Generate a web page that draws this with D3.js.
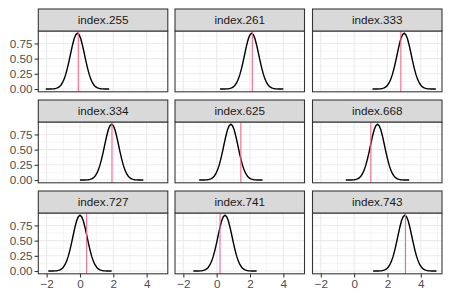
<!DOCTYPE html>
<html><head><meta charset="utf-8">
<script src="https://cdn.jsdelivr.net/npm/d3@7/dist/d3.min.js"></script>
<style>body{margin:0;background:#fff}svg{display:block}text{font-family:"Liberation Sans",Arial,sans-serif}</style>
</head><body><svg id="c" width="450" height="300"></svg>
<script>
// facet labels
const panels = ["index.255","index.261","index.333","index.334","index.625","index.668","index.727","index.741","index.743"];
// centre of each density curve
const curveCentres = [-0.15, 2.1, 3.0, 1.9, 0.85, 1.4, 0.0, 0.5, 3.04];
// position of the pink reference line
const refLines = [-0.1, 2.14, 2.8, 1.92, 1.45, 1.0, 0.4, 0.2, 3.08];
// curve shape: offsets from centre and density values
const offsets = [-1.9,-1.8,-1.7,-1.6,-1.5,-1.4,-1.3,-1.2,-1.1,-1.0,-0.9,-0.8,-0.7,-0.6,-0.5,-0.4,-0.3,-0.2,-0.1,0,
                  0.1,0.2,0.3,0.4,0.5,0.6,0.7,0.8,0.9,1.0,1.1,1.2,1.3,1.4,1.5,1.6,1.7,1.8,1.9];
const densities = [0.000,0.000,0.000,0.001,0.002,0.005,0.010,0.019,0.035,0.062,0.103,0.163,0.245,0.348,0.468,0.597,0.721,0.826,0.895,0.920,
                   0.895,0.826,0.721,0.597,0.468,0.348,0.245,0.163,0.103,0.062,0.035,0.019,0.010,0.005,0.002,0.001,0.000,0.000,0.000];
const xTicks = [-2,0,2,4];
const xMinor = [-1,1,3,5];
const yTicks = [0,0.25,0.5,0.75];
const yMinor = [0.125,0.375,0.625,0.875];

const svg = d3.select("#c");
const colX = [38.3, 175, 312.5], pw = 129.5;
const rowTop = [31, 122, 213], ph = 60.8, stripH = 22;
const x0 = d3.scaleLinear().domain([-2.5, 5.27]).range([0, pw]);
const y = d3.scaleLinear().domain([-0.046, 0.955]).range([ph, 0]);
const line = d3.line().x(d=>x0(d[0])).y(d=>y(d[1]));

panels.forEach((name,i)=>{
  const r = Math.floor(i/3), c = i%3;
  const g = svg.append("g").attr("transform",`translate(${colX[c]},${rowTop[r]})`);
  g.append("rect").attr("width",pw).attr("height",ph).attr("fill","#fff");
  // grid
  g.selectAll(".ymn").data(yMinor).join("line").attr("x1",0).attr("x2",pw).attr("y1",d=>y(d)).attr("y2",d=>y(d)).attr("stroke","#ebebeb").attr("stroke-width",0.55);
  g.selectAll(".xmn").data(xMinor).join("line").attr("y1",0).attr("y2",ph).attr("x1",d=>x0(d)).attr("x2",d=>x0(d)).attr("stroke","#ebebeb").attr("stroke-width",0.55);
  g.selectAll(".ymj").data(yTicks).join("line").attr("x1",0).attr("x2",pw).attr("y1",d=>y(d)).attr("y2",d=>y(d)).attr("stroke","#ebebeb").attr("stroke-width",1.1);
  g.selectAll(".xmj").data(xTicks).join("line").attr("y1",0).attr("y2",ph).attr("x1",d=>x0(d)).attr("x2",d=>x0(d)).attr("stroke","#ebebeb").attr("stroke-width",1.1);
  // curve
  const pts = offsets.map((o,k)=>[curveCentres[i]+o, densities[k]]);
  g.append("path").attr("d",line(pts)).attr("fill","none").attr("stroke","#000").attr("stroke-width",1.4);
  g.append("line").attr("x1",x0(refLines[i])).attr("x2",x0(refLines[i])).attr("y1",0).attr("y2",ph).attr("stroke","#f06a8e").attr("stroke-width",1.1);
  g.append("rect").attr("width",pw).attr("height",ph).attr("fill","none").attr("stroke","#333").attr("stroke-width",1.07);
  // strip
  g.append("rect").attr("y",-stripH).attr("width",pw).attr("height",stripH).attr("fill","#d9d9d9").attr("stroke","#333").attr("stroke-width",1.07);
  g.append("text").attr("x",pw/2).attr("y",-stripH/2).attr("dy","0.35em").attr("text-anchor","middle").attr("font-size",11.7).attr("fill","#1a1a1a").text(name);
  // axes
  if (c===0){
    const ay = g.append("g").call(d3.axisLeft(y).tickValues(yTicks).tickFormat(d3.format(".2f")).tickSize(3.7).tickPadding(2));
    ay.select(".domain").remove();
    ay.selectAll("line").attr("stroke","#333").attr("stroke-width",1.07);
    ay.selectAll("text").attr("font-size",11.7).attr("fill","#4d4d4d").style("font-family","'Liberation Sans',Arial,sans-serif");
  }
  if (r===2){
    const ax = g.append("g").attr("transform",`translate(0,${ph})`).call(d3.axisBottom(x0).tickValues(xTicks).tickFormat(d=>d<0?"\u2212"+Math.abs(d):d).tickSize(3.7).tickPadding(2));
    ax.select(".domain").remove();
    ax.selectAll("line").attr("stroke","#333").attr("stroke-width",1.07);
    ax.selectAll("text").attr("font-size",11.7).attr("fill","#4d4d4d").style("font-family","'Liberation Sans',Arial,sans-serif");
  }
});
</script></body></html>
